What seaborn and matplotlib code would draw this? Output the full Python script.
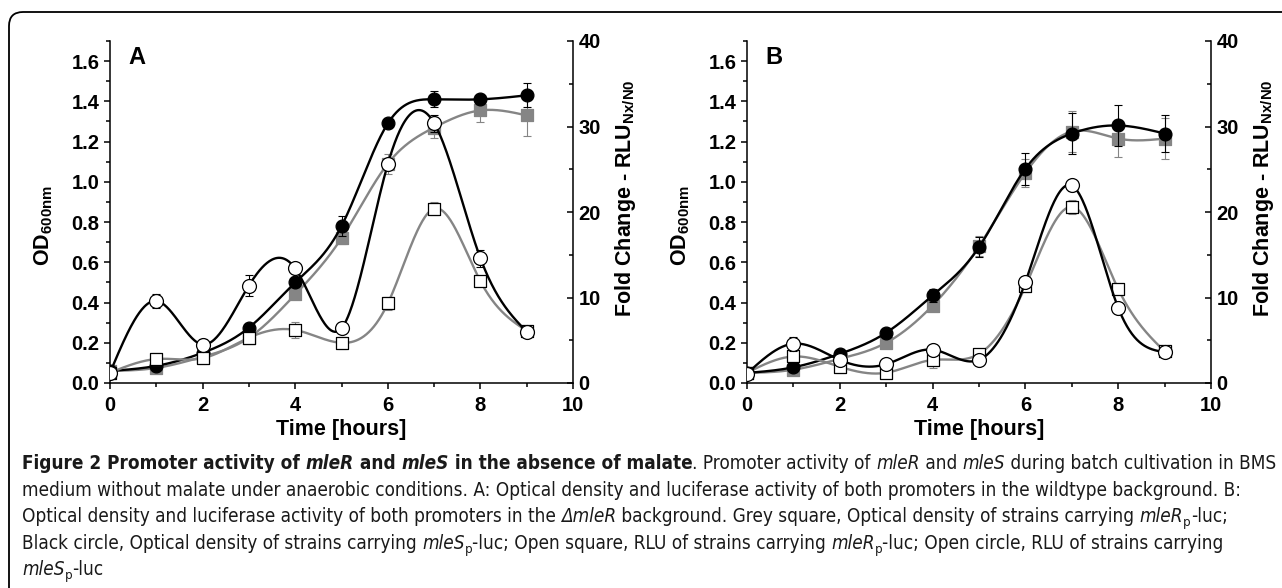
import numpy as np
import pandas as pd
import seaborn as sns
import matplotlib
matplotlib.use("Agg")
import matplotlib.pyplot as plt
from matplotlib import font_manager as fm
from matplotlib.patches import FancyBboxPatch
from matplotlib.transforms import IdentityTransform
from matplotlib.ticker import MultipleLocator, FormatStrFormatter

# ---------------- data ----------------
time = [0, 1, 2, 3, 4, 5, 6, 7, 8, 9]

# Panel A (wildtype background)
A_od_grey = [0.06, 0.075, 0.13, 0.225, 0.44, 0.72, 1.09, 1.27, 1.355, 1.33]
A_od_grey_err = [0.0, 0.01, 0.01, 0.01, 0.02, 0.03, 0.05, 0.05, 0.06, 0.1]
A_od_black = [0.06, 0.085, 0.15, 0.275, 0.50, 0.78, 1.29, 1.41, 1.41, 1.43]
A_od_black_err = [0.0, 0.01, 0.01, 0.01, 0.02, 0.05, 0.01, 0.04, 0.015, 0.06]
A_rlu_square = [1.2, 2.8, 2.9, 5.3, 6.2, 4.7, 9.3, 20.4, 11.9, 6.1]
A_rlu_square_err = [0.0, 0.7, 0.7, 0.4, 0.9, 0.7, 0.8, 0.8, 0.4, 0.3]
A_rlu_circle = [1.2, 9.6, 4.5, 11.4, 13.4, 6.4, 25.6, 30.4, 14.6, 6.0]
A_rlu_circle_err = [0.0, 0.8, 0.7, 1.2, 0.5, 0.4, 0.6, 1.0, 1.0, 0.3]

# Panel B (delta mleR background)
B_od_grey = [0.05, 0.066, 0.12, 0.2, 0.385, 0.68, 1.045, 1.25, 1.215, 1.215]
B_od_grey_err = [0.0, 0.01, 0.01, 0.01, 0.02, 0.05, 0.07, 0.1, 0.09, 0.1]
B_od_black = [0.05, 0.078, 0.145, 0.25, 0.435, 0.675, 1.065, 1.24, 1.28, 1.24]
B_od_black_err = [0.0, 0.01, 0.01, 0.01, 0.03, 0.05, 0.08, 0.1, 0.1, 0.09]
B_rlu_square = [1.2, 3.1, 1.9, 1.2, 2.7, 3.4, 11.3, 20.6, 11.0, 3.7]
B_rlu_square_err = [0.2, 0.5, 0.7, 0.5, 0.9, 0.5, 0.6, 0.8, 0.4, 0.3]
B_rlu_circle = [1.1, 4.6, 2.7, 2.2, 3.9, 2.7, 11.8, 23.1, 8.8, 3.6]
B_rlu_circle_err = [0.3, 0.8, 0.5, 0.4, 0.6, 0.4, 0.6, 0.7, 0.3, 0.3]

x_ticks = [0, 2, 4, 6, 8, 10]
panel_letters = ["A", "B"]
x_label = "Time [hours]"
y_left_label = r"$\mathbf{OD}_{\mathbf{600nm}}$"
y_right_label = r"Fold Change - RLU$_{\mathbf{Nx/N0}}$"

caption_lines = [
    [("Figure 2 Promoter activity of ", "b"), ("mleR", "bi"), (" and ", "b"), ("mleS", "bi"),
     (" in the absence of malate", "b"), (". Promoter activity of ", "n"), ("mleR", "i"), (" and ", "n"),
     ("mleS", "i"), (" during batch cultivation in BMS", "n")],
    [("medium without malate under anaerobic conditions. A: Optical density and luciferase activity of both "
      "promoters in the wildtype background. B:", "n")],
    [("Optical density and luciferase activity of both promoters in the ", "n"), ("\u0394mleR", "i"),
     (" background. Grey square, Optical density of strains carrying ", "n"), ("mleR", "i"), ("p", "sub"),
     ("-luc;", "n")],
    [("Black circle, Optical density of strains carrying ", "n"), ("mleS", "i"), ("p", "sub"),
     ("-luc; Open square, RLU of strains carrying ", "n"), ("mleR", "i"), ("p", "sub"),
     ("-luc; Open circle, RLU of strains carrying", "n")],
    [("mleS", "i"), ("p", "sub"), ("-luc", "n")],
]

# ---------------- style ----------------
sns.set_theme(style="ticks")
plt.rcParams["font.family"] = ["Liberation Sans", "DejaVu Sans"]
plt.rcParams["mathtext.fontset"] = "custom"
plt.rcParams["mathtext.rm"] = "Liberation Sans"
plt.rcParams["mathtext.bf"] = "Liberation Sans:bold"
plt.rcParams["mathtext.it"] = "Liberation Sans:italic"

GREY = "#858585"
TICK_FS = 14.5
LABEL_FS = 15.5
W, H = 1282, 588
fig = plt.figure(figsize=(W / 100, H / 100), dpi=100)
fig.patch.set_facecolor("white")


def ax_rect(l, r, t, b):
    return [l / W, 1 - b / H, (r - l) / W, (b - t) / H]


def natural_spline(x, y, n=500):
    x = np.asarray(x, float)
    y = np.asarray(y, float)
    k = len(x)
    h = np.diff(x)
    A = np.zeros((k, k))
    rhs = np.zeros(k)
    A[0, 0] = 1
    A[-1, -1] = 1
    for i in range(1, k - 1):
        A[i, i - 1] = h[i - 1]
        A[i, i] = 2 * (h[i - 1] + h[i])
        A[i, i + 1] = h[i]
        rhs[i] = 6 * ((y[i + 1] - y[i]) / h[i] - (y[i] - y[i - 1]) / h[i - 1])
    M = np.linalg.solve(A, rhs)
    xs = np.linspace(x[0], x[-1], n)
    idx = np.clip(np.searchsorted(x, xs) - 1, 0, k - 2)
    xi, xi1, hi = x[idx], x[idx + 1], h[idx]
    ys = (M[idx] * (xi1 - xs) ** 3 / (6 * hi) + M[idx + 1] * (xs - xi) ** 3 / (6 * hi)
          + (y[idx] / hi - M[idx] * hi / 6) * (xi1 - xs)
          + (y[idx + 1] / hi - M[idx + 1] * hi / 6) * (xs - xi))
    return xs, ys


def draw_series(ax, y, err, line_color, marker, face, edge, size, z):
    xs, ys = natural_spline(time, y)
    sns.lineplot(x=xs, y=ys, ax=ax, color=line_color, linewidth=1.7, sort=False,
                 estimator=None, zorder=z, legend=False)
    ax.errorbar(time, y, yerr=err, fmt="none", ecolor=edge if face != "white" else line_color,
                elinewidth=0.8, capsize=3.2, capthick=0.8, zorder=z + 0.5)
    sns.scatterplot(x=time, y=y, ax=ax, marker=marker, s=size, color=face, edgecolor=edge,
                    linewidth=0.9, zorder=z + 1, legend=False)


def panel(rect, letter, od_g, od_g_e, od_b, od_b_e, sq, sq_e, ci, ci_e):
    ax = fig.add_axes(ax_rect(*rect))
    ax2 = ax.twinx()
    ax.set_xlim(0, 10)
    ax.set_ylim(0, 1.7)
    ax2.set_ylim(0, 40)
    ax.patch.set_alpha(0)
    ax2.patch.set_alpha(0)

    draw_series(ax, od_g, od_g_e, GREY, "s", GREY, GREY, 66, 3)
    draw_series(ax, od_b, od_b_e, "black", "o", "black", "black", 85, 4)
    draw_series(ax2, sq, sq_e, GREY, "s", "white", "black", 66, 3)
    draw_series(ax2, ci, ci_e, "black", "o", "white", "black", 100, 4)

    ax.xaxis.set_major_locator(MultipleLocator(2))
    ax.xaxis.set_minor_locator(MultipleLocator(1))
    ax.set_xticks(x_ticks)
    ax.yaxis.set_major_locator(MultipleLocator(0.2))
    ax.yaxis.set_minor_locator(MultipleLocator(0.1))
    ax.yaxis.set_major_formatter(FormatStrFormatter("%.1f"))
    ax2.yaxis.set_major_locator(MultipleLocator(10))
    ax2.yaxis.set_minor_locator(MultipleLocator(5))

    for a in (ax, ax2):
        for s in a.spines.values():
            s.set_linewidth(1.1)
            s.set_color("black")
    ax.spines["top"].set_visible(False)
    ax.spines["right"].set_visible(False)
    for s in ("top", "left", "bottom"):
        ax2.spines[s].set_visible(False)

    ax.tick_params(which="both", direction="out", color="black", width=1.1, labelsize=TICK_FS,
                   labelcolor="black", pad=3, top=False, right=False)
    ax.tick_params(axis="x", which="both", pad=5)
    ax.tick_params(which="major", length=4.5)
    ax.tick_params(which="minor", length=2.8)
    ax2.tick_params(axis="y", which="both", direction="in", color="black", width=1.1,
                    labelsize=TICK_FS, labelcolor="black", pad=4)
    ax2.tick_params(which="major", length=4.5)
    ax2.tick_params(which="minor", length=2.8)
    for lab in ax.get_xticklabels() + ax.get_yticklabels() + ax2.get_yticklabels():
        lab.set_fontweight("bold")

    ax.set_xlabel(x_label, fontsize=LABEL_FS, fontweight="bold", color="black")
    ax.xaxis.set_label_coords(0.5, -0.105)
    ax.set_ylabel(y_left_label, fontsize=LABEL_FS, color="black")
    ax.yaxis.set_label_coords(-0.118, 0.46)
    ax2.set_ylabel(y_right_label, fontsize=LABEL_FS, fontweight="bold", color="black")
    ax2.yaxis.set_label_coords(1.086, 0.54)

    ax.text(0.058, 0.953, letter, transform=ax.transAxes, ha="center", va="center",
            fontsize=17, fontweight="bold", color="black")
    return ax, ax2


panel((110, 573, 41, 383), panel_letters[0], A_od_grey, A_od_grey_err, A_od_black, A_od_black_err,
      A_rlu_square, A_rlu_square_err, A_rlu_circle, A_rlu_circle_err)
panel((747, 1211, 41, 383), panel_letters[1], B_od_grey, B_od_grey_err, B_od_black, B_od_black_err,
      B_rlu_square, B_rlu_square_err, B_rlu_circle, B_rlu_circle_err)

# ---------------- frame ----------------
frame = FancyBboxPatch((9, -40), 1320, H - 12 + 40, boxstyle="round,pad=0,rounding_size=14",
                       transform=IdentityTransform(), facecolor="none", edgecolor="black",
                       linewidth=1.3, zorder=0)
fig.add_artist(frame)

# ---------------- caption ----------------
names = {f.name for f in fm.fontManager.ttflist}
if "Liberation Sans Narrow" in names:
    cap_family = ["Liberation Sans Narrow", "DejaVu Sans"]
    cap_stretch = "normal"
else:
    cap_family = ["DejaVu Sans"]
    cap_stretch = "condensed"

renderer = fig.canvas.get_renderer()


def props(kind, size):
    p = dict(family=cap_family, fontstretch=cap_stretch, fontsize=size, color="#1a1a1a")
    if kind in ("b", "bi"):
        p["fontweight"] = "bold"
    if kind in ("i", "bi"):
        p["fontstyle"] = "italic"
    if kind == "sub":
        p["fontsize"] = size * 0.7
    return p


def text_width(s, p):
    t1 = fig.text(0, 0, "|" + s + "|", transform=IdentityTransform(), **p)
    t2 = fig.text(0, 0, "||", transform=IdentityTransform(), **p)
    w = t1.get_window_extent(renderer).width - t2.get_window_extent(renderer).width
    t1.remove()
    t2.remove()
    return w


def line_width(runs, size):
    return sum(text_width(s, props(k, size)) for s, k in runs)


base = 10.0
w10 = line_width(caption_lines[0], base)
cap_size = base * (1253.0 / w10)

baselines = [469, 496, 522, 549, 575]
for runs, yb in zip(caption_lines, baselines):
    x = 22.0
    for s, k in runs:
        p = props(k, cap_size)
        dy = -4 if k == "sub" else 0
        fig.text(x, H - yb + dy, s, transform=IdentityTransform(), va="baseline", ha="left", **p)
        x += text_width(s, p)

fig.savefig("out.png", dpi=100, facecolor="white")
